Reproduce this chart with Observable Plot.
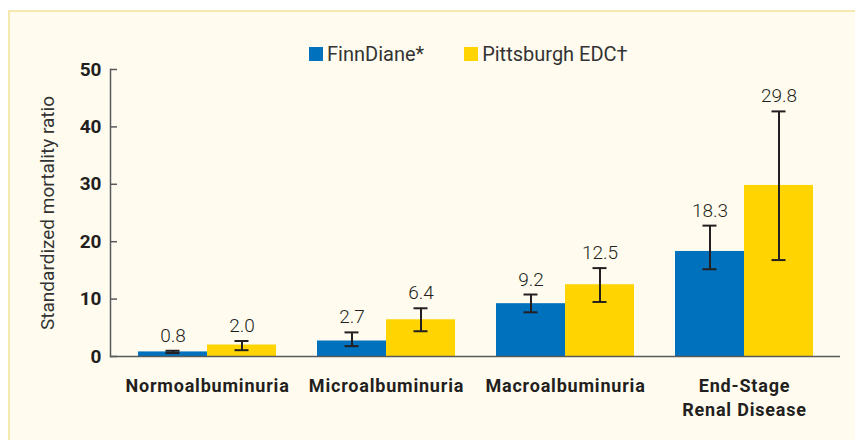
<!DOCTYPE html>
<html>
<head>
<meta charset="utf-8">
<script src="https://cdn.jsdelivr.net/npm/d3@7"></script>
<script src="https://cdn.jsdelivr.net/npm/@observablehq/plot@0.6"></script>
<style>
  html, body { margin: 0; padding: 0; background: #ffffff; }
  #box {
    position: absolute; left: 8px; top: 10px; width: 847px; height: 430px;
    background: #fffcef; border-top: 2px solid #f3e8b0; border-left: 2px solid #f3e8b0;
    font-family: Roboto, "Liberation Sans", sans-serif; color: #231f20; overflow: hidden;
  }
  #legend { display: flex; align-items: center; height: 24px; margin-top: 30px; margin-left: 299px; font-size: 20px; color: #333; }
  .sw { width: 14px; height: 14px; display: inline-block; margin-right: 4px; }
  .item { display: flex; align-items: center; margin-right: 40px; }
  #chart svg { display: block; margin-top: -30px; }
  #chart svg g[aria-label="x-axis tick label"] { letter-spacing: 0.8px; }
</style>
</head>
<body>
<div id="box">
  <div id="legend"></div>
  <div id="chart"></div>
</div>
<script>
const groups = ["Normoalbuminuria", "Microalbuminuria", "Macroalbuminuria", "End-Stage\nRenal Disease"];
const seriesNames = ["FinnDiane*", "Pittsburgh EDC†"];
const seriesColors = ["#0071bc", "#ffd400"];
const finnDiane = [0.8, 2.7, 9.2, 18.3];
const finnDianeLo = [0.6, 1.8, 7.7, 15.2];
const finnDianeHi = [1.0, 4.2, 10.8, 22.8];
const pittsburgh = [2.0, 6.4, 12.5, 29.8];
const pittsburghLo = [1.1, 4.4, 9.5, 16.8];
const pittsburghHi = [2.7, 8.4, 15.4, 42.7];
const yTicks = [0, 10, 20, 30, 40, 50];
const yTitle = "Standardized mortality ratio";

const rowsA = groups.map((g, i) => ({group: g, series: seriesNames[0], value: finnDiane[i], lo: finnDianeLo[i], hi: finnDianeHi[i]}));
const rowsB = groups.map((g, i) => ({group: g, series: seriesNames[1], value: pittsburgh[i], lo: pittsburghLo[i], hi: pittsburghHi[i]}));

// legend
const legend = document.getElementById("legend");
seriesNames.forEach((s, i) => {
  const it = document.createElement("div");
  it.className = "item";
  it.innerHTML = `<span class="sw" style="background:${seriesColors[i]}"></span><span>${s}</span>`;
  legend.appendChild(it);
});

const half = 69, off = 34.5, capInset = 62;
const ink = "#231f20";

function seriesMarks(rows, side) {
  const dx = side * off;
  return [
    Plot.barY(rows, {x: "group", y: "value", fill: seriesColors[side < 0 ? 0 : 1],
      insetLeft: side < 0 ? 0 : half, insetRight: side < 0 ? half : 0}),
    Plot.ruleX(rows, {x: "group", y1: "lo", y2: "hi", dx, stroke: ink, strokeWidth: 2}),
    Plot.tickY(rows, {x: "group", y: "lo", dx, stroke: ink, strokeWidth: 2, insetLeft: capInset, insetRight: capInset}),
    Plot.tickY(rows, {x: "group", y: "hi", dx, stroke: ink, strokeWidth: 2, insetLeft: capInset, insetRight: capInset}),
    Plot.text(rows, {x: "group", y: "hi", dx, dy: -9, lineAnchor: "bottom", text: d => d.value.toFixed(1),
      fontSize: 19, fill: ink, fontWeight: 300})
  ];
}

const chart = Plot.plot({
  width: 845,
  height: 404,
  marginLeft: 100,
  marginRight: 15,
  marginTop: 33,
  marginBottom: 84,
  style: "background: transparent; overflow: visible; font-family: Roboto, 'Liberation Sans', sans-serif;",
  x: {domain: groups, paddingInner: 0.23, paddingOuter: 0.15},
  y: {domain: [0, 50]},
  marks: [
    ...seriesMarks(rowsA, -1),
    ...seriesMarks(rowsB, 1),
    Plot.axisX({tickSize: 0, tickPadding: 18, fontSize: 18, fontWeight: "bold", fill: ink, lineHeight: 1.34, label: null}),
    Plot.axisY({ticks: yTicks, tickSize: -7, tickPadding: 16, fontSize: 19, fontWeight: "bold", fill: ink, stroke: "#58595b", strokeWidth: 1.5, label: null}),
    Plot.text([yTitle], {frameAnchor: "left", rotate: -90, dx: -63, fontSize: 19, fill: "#333", textAnchor: "middle", lineAnchor: "middle"}),
    Plot.frame({anchor: "left", stroke: "#58595b", strokeWidth: 1.5}),
    Plot.ruleY([0], {stroke: "#58595b", strokeWidth: 1.5})
  ]
});
document.getElementById("chart").appendChild(chart);
</script>
</body>
</html>
